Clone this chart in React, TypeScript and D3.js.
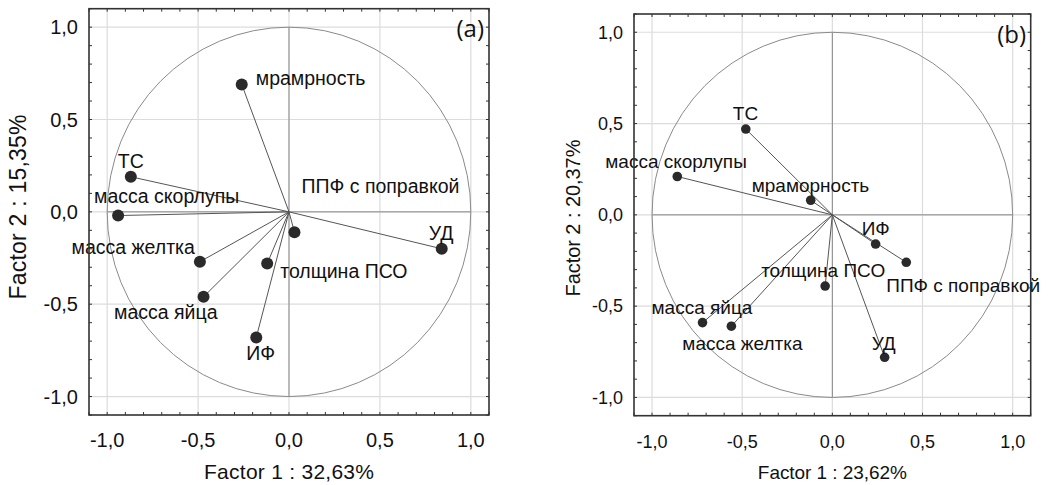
import * as d3 from 'd3';

// Panel (a)
const variablesA = ['мрамрность', 'ТС', 'масса скорлупы', 'масса желтка', 'масса яйца', 'ИФ', 'толщина ПСО', 'ППФ с поправкой', 'УД'];
const factor1A = [-0.26, -0.87, -0.94, -0.49, -0.47, -0.18, -0.12, 0.03, 0.84];
const factor2A = [0.69, 0.19, -0.02, -0.27, -0.46, -0.68, -0.28, -0.11, -0.2];

// Panel (b)
const variablesB = ['ТС', 'масса скорлупы', 'мраморность', 'ИФ', 'ППФ с поправкой', 'толщина ПСО', 'масса яйца', 'масса желтка', 'УД'];
const factor1B = [-0.48, -0.86, -0.12, 0.24, 0.41, -0.04, -0.72, -0.56, 0.29];
const factor2B = [0.47, 0.21, 0.08, -0.16, -0.26, -0.39, -0.59, -0.61, -0.78];

const majorTicks = [-1, -0.5, 0, 0.5, 1];

// label placement relative to the dot (px)
const labelPosA: Record<string, [number, number, string]> = {
  'мрамрность': [14, 1, 'start'],
  'ТС': [-13, -9, 'start'],
  'масса скорлупы': [-24, -13, 'start'],
  'масса желтка': [-5, -8, 'end'],
  'масса яйца': [14, 22, 'end'],
  'ИФ': [-10, 23, 'start'],
  'толщина ПСО': [13, 14, 'start'],
  'ППФ с поправкой': [7, -39, 'start'],
  'УД': [-13, -9, 'start']
};
const labelPosB: Record<string, [number, number, string]> = {
  'ТС': [-13, -9, 'start'],
  'масса скорлупы': [-72, -9, 'start'],
  'мраморность': [-59, -8, 'start'],
  'ИФ': [-14, -9, 'start'],
  'ППФ с поправкой': [-20, 30, 'start'],
  'толщина ПСО': [-64, -9, 'start'],
  'масса яйца': [-51, -9, 'start'],
  'масса желтка': [-49, 24, 'start'],
  'УД': [-13, -7, 'start']
};

const locale = d3.formatLocale({ decimal: ',', thousands: ' ', grouping: [3], currency: ['', ''], minus: '-' });
const fmt = locale.format('.1f');
const FONT = '"Liberation Sans", Arial, sans-serif';

interface PanelProps {
  names: string[];
  xs: number[];
  ys: number[];
  labelPos: Record<string, [number, number, string]>;
  left: number;
  right: number;
  top: number;
  bottom: number;
  tag: string;
  tagX: number;
  tagY: number;
  xTitle: string;
  yTitle: string;
  xTitleY: number;
  xTitleSize: number;
  xTitleLen: number;
  yTitleX: number;
  yTitleY: number;
  yTitleSize: number;
  yTitleLen: number;
  tickSize: number;
  labelSize: number;
  dotR: number;
}

function Panel(p: PanelProps) {
  const x = d3.scaleLinear().domain([-1.1, 1.1]).range([p.left, p.right]);
  const y = d3.scaleLinear().domain([-1.1, 1.1]).range([p.bottom, p.top]);
  const minor = d3.range(-11, 12).map((d) => d / 10);
  const cx = x(0);
  const cy = y(0);
  return (
    <g fontFamily={FONT}>
      {/* grid */}
      {majorTicks.map((t) => (
        <g key={'g' + t}>
          <line x1={x(t)} x2={x(t)} y1={p.top} y2={p.bottom} stroke="#dcdcdc" strokeWidth={1.2} />
          <line x1={p.left} x2={p.right} y1={y(t)} y2={y(t)} stroke="#dcdcdc" strokeWidth={1.2} />
        </g>
      ))}
      {/* zero lines */}
      <line x1={cx} x2={cx} y1={y(1)} y2={y(-1)} stroke="#8a8a8a" strokeWidth={1} />
      <line x1={x(-1)} x2={x(1)} y1={cy} y2={cy} stroke="#8a8a8a" strokeWidth={1} />
      {/* unit circle */}
      <ellipse cx={cx} cy={cy} rx={x(1) - cx} ry={cy - y(1)} fill="none" stroke="#8a8a8a" strokeWidth={1} />
      {/* vectors */}
      {p.names.map((n, i) => (
        <line key={'v' + n} x1={cx} y1={cy} x2={x(p.xs[i])} y2={y(p.ys[i])} stroke="#555" strokeWidth={1} />
      ))}
      {p.names.map((n, i) => (
        <circle key={'c' + n} cx={x(p.xs[i])} cy={y(p.ys[i])} r={p.dotR} fill="#2a2a2a" />
      ))}
      {p.names.map((n, i) => {
        const [dx, dy, anchor] = p.labelPos[n];
        return (
          <text key={'t' + n} x={x(p.xs[i]) + dx} y={y(p.ys[i]) + dy} fontSize={p.labelSize} fill="#111" textAnchor={anchor as any}>
            {n}
          </text>
        );
      })}
      {/* frame */}
      <rect x={p.left} y={p.top} width={p.right - p.left} height={p.bottom - p.top} fill="none" stroke="#333" strokeWidth={1.6} />
      {/* inner ticks */}
      {minor.map((t) => (
        <g key={'m' + t} stroke="#333" strokeWidth={1}>
          <line x1={x(t)} x2={x(t)} y1={p.bottom} y2={p.bottom - 3} />
          <line x1={x(t)} x2={x(t)} y1={p.top} y2={p.top + 3} />
          <line x1={p.left} x2={p.left + 3} y1={y(t)} y2={y(t)} />
          <line x1={p.right} x2={p.right - 3} y1={y(t)} y2={y(t)} />
        </g>
      ))}
      {/* tick labels */}
      {majorTicks.map((t) => (
        <text key={'xl' + t} x={x(t)} y={p.bottom + 32} fontSize={p.tickSize} textAnchor="middle" fill="#111">
          {fmt(t)}
        </text>
      ))}
      {majorTicks.map((t) => (
        <text key={'yl' + t} x={p.left - 11} y={y(t)} dy="0.35em" fontSize={p.tickSize} textAnchor="end" fill="#111">
          {fmt(t)}
        </text>
      ))}
      <text x={(p.left + p.right) / 2} y={p.xTitleY} fontSize={p.xTitleSize} textAnchor="middle" fill="#111" textLength={p.xTitleLen} lengthAdjust="spacing">
        {p.xTitle}
      </text>
      <text
        transform={`translate(${p.yTitleX},${p.yTitleY}) rotate(-90)`}
        fontSize={p.yTitleSize}
        textAnchor="middle"
        dy="0.35em"
        fill="#111"
        textLength={p.yTitleLen}
        lengthAdjust="spacing"
      >
        {p.yTitle}
      </text>
      <text x={p.tagX} y={p.tagY} fontSize={24} textAnchor="end" fill="#111" fontFamily='"Open Sans", sans-serif'>
        {p.tag}
      </text>
    </g>
  );
}

export default function App() {
  return (
    <svg width={1057} height={485} style={{ position: 'absolute', left: 0, top: 0, background: '#fff' }}>
      <rect width={1057} height={485} fill="#fff" />
      <Panel
        names={variablesA}
        xs={factor1A}
        ys={factor2A}
        labelPos={labelPosA}
        left={89}
        right={489}
        top={8.7}
        bottom={415}
        tag="(a)"
        tagX={484}
        tagY={37}
        xTitle="Factor 1 : 32,63%"
        yTitle="Factor 2 : 15,35%"
        xTitleY={479}
        xTitleSize={21}
        xTitleLen={170}
        yTitleX={18}
        yTitleY={207}
        yTitleSize={23}
        yTitleLen={185}
        tickSize={20}
        labelSize={19.5}
        dotR={6}
      />
      <Panel
        names={variablesB}
        xs={factor1B}
        ys={factor2B}
        labelPos={labelPosB}
        left={634}
        right={1030.7}
        top={14}
        bottom={415.7}
        tag="(b)"
        tagX={1026}
        tagY={43}
        xTitle="Factor 1 : 23,62%"
        yTitle="Factor 2 : 20,37%"
        xTitleY={479}
        xTitleSize={19}
        xTitleLen={149}
        yTitleX={573}
        yTitleY={218}
        yTitleSize={20}
        yTitleLen={157}
        tickSize={18}
        labelSize={19}
        dotR={4.8}
      />
    </svg>
  );
}
